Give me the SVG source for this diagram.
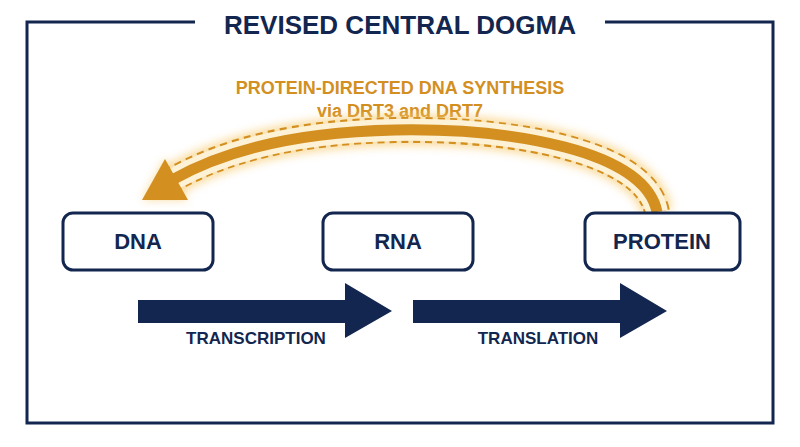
<svg xmlns="http://www.w3.org/2000/svg" width="800" height="447" viewBox="0 0 800 447">
<defs>
<style>
.t{font-family:"Liberation Sans",Arial,sans-serif;font-weight:bold;fill:#13264f;text-anchor:middle}
.box{fill:#fff;stroke:#13264f;stroke-width:3}
.o{fill:#d38f1f}
</style>
<filter id="g" x="-20%" y="-50%" width="140%" height="200%"><feGaussianBlur stdDeviation="4"/></filter>
</defs>
<rect width="800" height="447" fill="#fff"/>
<rect x="27" y="22" width="746" height="401" fill="none" stroke="#13264f" stroke-width="3"/>
<rect x="195" y="8" width="410" height="28" fill="#fff"/>
<text class="t" x="400" y="34" font-size="26">REVISED CENTRAL DOGMA</text>
<text x="400" y="94" font-size="18" font-weight="bold" fill="#d38f1f" text-anchor="middle" font-family="Liberation Sans,Arial,sans-serif">PROTEIN-DIRECTED DNA SYNTHESIS</text>
<text x="400" y="117" font-size="18" font-weight="bold" fill="#d38f1f" text-anchor="middle" font-family="Liberation Sans,Arial,sans-serif">via DRT3 and DRT7</text>
<g id="connectors">
<g id="feedback">
<path d="M657 212 C645 150 510 128 395 130 C295 132 225 150 172 180" fill="none" stroke="#f7c766" stroke-width="32" opacity="0.6" filter="url(#g)"/>
<polygon points="142,200 165,159 188,200" fill="#f7c766" opacity="0.6" filter="url(#g)"/>
<path d="M657 212 C645 150 510 128 395 130 C295 132 225 150 172 180" fill="none" stroke="#d38f1f" stroke-width="26" stroke-dasharray="7 5"/>
<path d="M657 212 C645 150 510 128 395 130 C295 132 225 150 172 180" fill="none" stroke="#fdf1d6" stroke-width="22"/>
<path d="M657 212 C645 150 510 128 395 130 C295 132 225 150 172 180" fill="none" stroke="#d38f1f" stroke-width="11"/>
<polygon class="o" points="142,200 165,159 188,200"/>
</g>
<g id="transcription">
<polygon points="138,300 345,300 345,283 392,311 345,338 345,323 138,323" fill="#13264f"/>
</g>
<g id="translation">
<polygon points="413,300 620,300 620,283 667,311 620,338 620,323 413,323" fill="#13264f"/>
</g>
</g>
<text class="t" x="256" y="344" font-size="17">TRANSCRIPTION</text>
<text class="t" x="538" y="344" font-size="17">TRANSLATION</text>
<g id="dna"><rect class="box" x="63" y="213" width="150" height="57" rx="10"/><text class="t" x="138" y="249" font-size="22">DNA</text></g>
<g id="rna"><rect class="box" x="323" y="213" width="150" height="57" rx="10"/><text class="t" x="398" y="249" font-size="22">RNA</text></g>
<g id="protein"><rect class="box" x="585" y="213" width="155" height="57" rx="10"/><text class="t" x="662" y="249" font-size="22">PROTEIN</text></g>
</svg>
